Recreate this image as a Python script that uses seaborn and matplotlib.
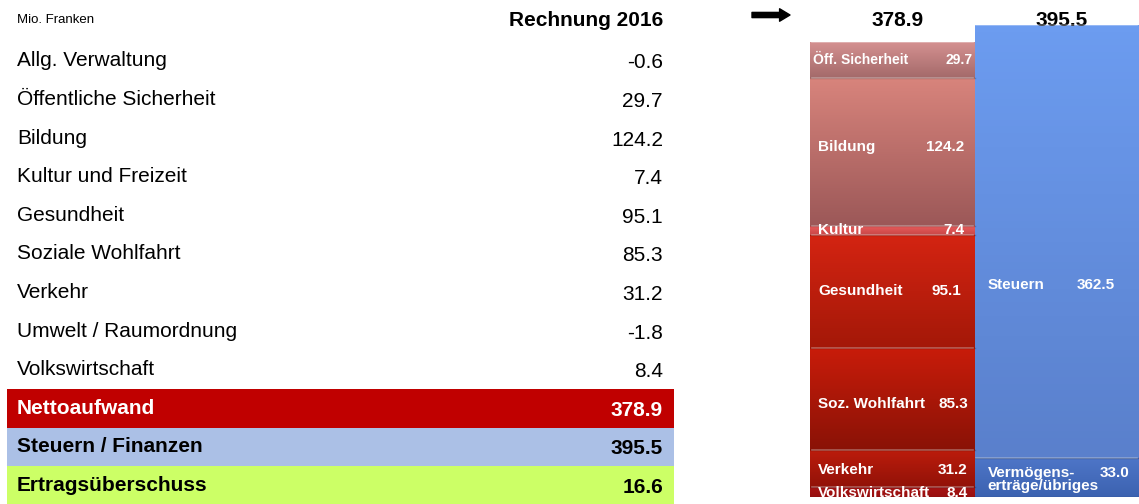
import numpy as np
import pandas as pd
import matplotlib
matplotlib.use("Agg")
import matplotlib.pyplot as plt
import matplotlib.colors as mcolors
import seaborn as sns

# ------------------------------------------------------------
# Daten (Mio. Franken, Rechnung 2016)
# ------------------------------------------------------------
table_labels = ["Allg. Verwaltung", "Öffentliche Sicherheit", "Bildung",
                "Kultur und Freizeit", "Gesundheit", "Soziale Wohlfahrt",
                "Verkehr", "Umwelt / Raumordnung", "Volkswirtschaft"]
table_values = [-0.6, 29.7, 124.2, 7.4, 95.1, 85.3, 31.2, -1.8, 8.4]

summary_labels = ["Nettoaufwand", "Steuern / Finanzen", "Ertragsüberschuss"]
summary_values = [378.9, 395.5, 16.6]
summary_bg = ["#c00000", "#abc0e6", "#ccff66"]
summary_fg = ["white", "black", "black"]

# Stapel Aufwand (von unten nach oben)
aufwand_labels = ["Volkswirtschaft", "Verkehr", "Soz. Wohlfahrt", "Gesundheit",
                  "Kultur", "Bildung", "Öff. Sicherheit"]
aufwand_values = [8.4, 31.2, 85.3, 95.1, 7.4, 124.2, 29.7]
aufwand_top = ["#a81414", "#bc1c0c", "#c81c0a", "#d42412", "#e85a5a", "#d8847c", "#d49090"]
aufwand_bot = ["#981010", "#921208", "#8a1206", "#a41808", "#c84848", "#9c5858", "#a46a6a"]

# Stapel Ertrag
ertrag_labels = ["Vermögens-\nerträge/übriges", "Steuern"]
ertrag_values = [33.0, 362.5]
ertrag_top = ["#4e76c8", "#6c9cf0"]
ertrag_bot = ["#3c62b0", "#5a80cc"]

totals = [378.9, 395.5]
bar_names = ["Aufwand", "Ertrag"]

plt.rcParams["font.family"] = ["Liberation Sans", "DejaVu Sans"]

fig = plt.figure(figsize=(11.39, 5.04), dpi=100)

# ------------------------------------------------------------
# Tabelle links
# ------------------------------------------------------------
ax_t = fig.add_axes([0, 0, 680 / 1139, 1])
ax_t.set_xlim(0, 680)
ax_t.set_ylim(11.48, -1.58)
ax_t.axis("off")

ax_t.text(17, -1.06, "Mio. Franken", fontsize=9.5, va="center", ha="left")
ax_t.text(663, -1.04, "Rechnung 2016", fontsize=15, fontweight="bold",
          va="center", ha="right")

for i, (lab, val) in enumerate(zip(table_labels, table_values)):
    ax_t.text(17, i, lab, fontsize=15, va="center", ha="left")
    ax_t.text(663, i + 0.05, f"{val:.1f}", fontsize=15, va="center", ha="right")

n = len(table_labels)
for j, (lab, val) in enumerate(zip(summary_labels, summary_values)):
    r = n + j
    ax_t.axhspan(r - 0.5, r + 0.5, xmin=7 / 680, xmax=674 / 680,
                 color=summary_bg[j], lw=0)
    ax_t.text(17, r, lab, fontsize=15, fontweight="bold", color=summary_fg[j],
              va="center", ha="left")
    ax_t.text(663, r + 0.05, f"{val:.1f}", fontsize=15, fontweight="bold",
              color=summary_fg[j], va="center", ha="right")

# ------------------------------------------------------------
# Gestapelte Säulen rechts
# ------------------------------------------------------------
ax_b = fig.add_axes([810 / 1139, 7 / 504, 329 / 1139, 497 / 504])

stacks = [
    (bar_names[0], aufwand_labels, aufwand_values, aufwand_top, aufwand_bot),
    (bar_names[1], ertrag_labels, ertrag_values, ertrag_top, ertrag_bot),
]

rows = []
for name, labs, vals, tops, bots in stacks:
    cum = np.cumsum(vals)
    for k, lab in enumerate(labs):
        rows.append({"bar": name, "segment": lab, "value": vals[k],
                     "bottom": cum[k] - vals[k], "top": cum[k],
                     "c_top": tops[k], "c_bot": bots[k]})
df = pd.DataFrame(rows)

# Überlappende kumulierte Säulen (grösste zuerst)
for _, row in df.sort_values("top", ascending=False).iterrows():
    sns.barplot(x=[row["bar"]], y=[row["top"]], order=bar_names, width=1.0,
                color=row["c_top"], ax=ax_b, linewidth=0)

# Farbverläufe je Segment
xpos = {name: k for k, name in enumerate(bar_names)}
for _, row in df.iterrows():
    x0 = xpos[row["bar"]] - 0.5
    cmap = mcolors.LinearSegmentedColormap.from_list(
        "g", [row["c_bot"], row["c_top"]])
    grad = np.linspace(0, 1, 64).reshape(-1, 1)
    ax_b.imshow(grad, extent=(x0, x0 + 1.0, row["bottom"], row["top"]),
                origin="lower", aspect="auto", cmap=cmap, zorder=3)
    ax_b.plot([x0 + 0.01, x0 + 0.99], [row["top"]] * 2, color="white",
              alpha=0.35, lw=1.2, zorder=4)
    ax_b.plot([x0, x0 + 1.0], [row["bottom"]] * 2, color="#000000",
              alpha=0.2, lw=1.0, zorder=4)

ax_b.set_xlim(-0.5, 1.5)
ax_b.set_ylim(0, 416.6)
ax_b.axis("off")

# Segmentbeschriftungen: Schriftgrösse, vertikale Lage, x Label, x Wert
label_cfg = {
    "Öff. Sicherheit": dict(fs=10, frac=0.5, xl=0.02, xv=0.99),
    "Bildung": dict(fs=11, frac=0.53, xl=0.05, xv=0.94),
    "Kultur": dict(fs=11, frac=0.5, xl=0.05, xv=0.94),
    "Gesundheit": dict(fs=11, frac=0.5, xl=0.05, xv=0.92),
    "Soz. Wohlfahrt": dict(fs=11, frac=0.45, xl=0.05, xv=0.96),
    "Verkehr": dict(fs=11, frac=0.45, xl=0.05, xv=0.96),
    "Volkswirtschaft": dict(fs=11, frac=0.4, xl=0.05, xv=0.96),
    "Steuern": dict(fs=11, frac=0.40, xl=0.08, xv=0.85),
    "Vermögens-\nerträge/übriges": dict(fs=11, frac=0.45, xl=0.08, xv=0.94),
}
for _, row in df.iterrows():
    cfg = label_cfg[row["segment"]]
    x0 = xpos[row["bar"]] - 0.5
    y = row["bottom"] + cfg["frac"] * row["value"]
    ax_b.text(x0 + cfg["xl"], y, row["segment"], color="white", fontsize=cfg["fs"],
              fontweight="bold", va="center", ha="left", zorder=5,
              linespacing=0.95)
    dy = 5 if "\n" in row["segment"] else 0
    ax_b.text(x0 + cfg["xv"], y + dy, f"{row['value']:.1f}", color="white",
              fontsize=cfg["fs"], fontweight="bold", va="center", ha="right",
              zorder=5)

# Totale über den Säulen
for k, tot in enumerate(totals):
    ax_b.text(k + 0.03, max(totals) + 4.3, f"{tot:.1f}", fontsize=15,
              fontweight="bold", ha="center", va="center", clip_on=False)

# Pfeil
fig.add_artist(plt.Annotation(
    "", xy=(790 / 1139, 489 / 504), xytext=(752 / 1139, 489 / 504),
    xycoords="figure fraction", textcoords="figure fraction",
    arrowprops=dict(arrowstyle="simple,head_length=0.5,head_width=0.6,tail_width=0.25",
                    color="black", mutation_scale=15, shrinkA=0, shrinkB=0)))

fig.savefig("out.png", dpi=100)
